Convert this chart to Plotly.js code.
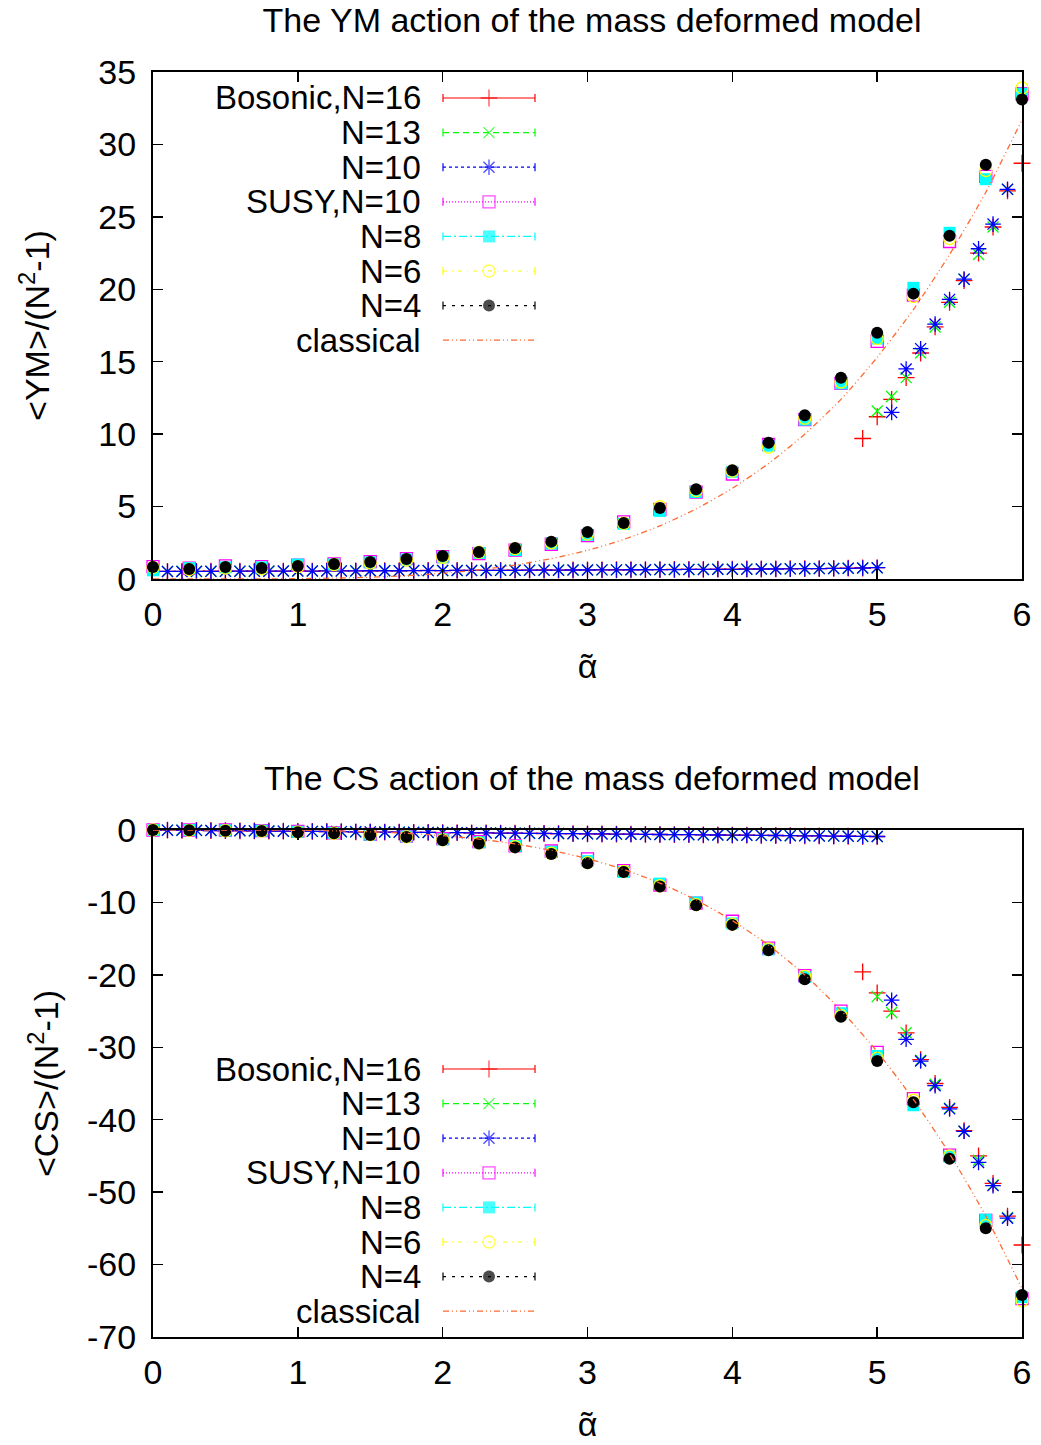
<!DOCTYPE html>
<html>
<head>
<meta charset="utf-8">
<script src="https://cdn.plot.ly/plotly-3.0.1.min.js"></script>
<style>html,body{margin:0;padding:0;background:#fff;}#chart{width:1041px;height:1445px;}</style>
</head>
<body>
<div id="chart"></div>
<script>
// ---------------- DATA ----------------
const seriesNames = ["Bosonic,N=16", "N=13", "N=10", "SUSY,N=10", "N=8", "N=6", "N=4", "classical"];
const xTickVals = [0, 1, 2, 3, 4, 5, 6];
const xTickText = ["0", "1", "2", "3", "4", "5", "6"];
const yTickValsTop = [0, 5, 10, 15, 20, 25, 30, 35];
const yTickTextTop = ["0", "5", "10", "15", "20", "25", "30", "35"];
const yTickValsBot = [-70, -60, -50, -40, -30, -20, -10, 0];
const yTickTextBot = ["-70", "-60", "-50", "-40", "-30", "-20", "-10", "0"];

// SUSY alpha grid
const alphaS = [0, 0.25, 0.5, 0.75, 1, 1.25, 1.5, 1.75, 2, 2.25, 2.5, 2.75, 3, 3.25, 3.5, 3.75, 4, 4.25, 4.5, 4.75, 5, 5.25, 5.5, 5.75, 6];

// bosonic lower-branch alpha grid
const alphaLow = [0.1,0.2,0.3,0.4,0.5,0.6,0.7,0.8,0.9,1.0,1.1,1.2,1.3,1.4,1.5,1.6,1.7,1.8,1.9,2.0,
  2.1,2.2,2.3,2.4,2.5,2.6,2.7,2.8,2.9,3.0,3.1,3.2,3.3,3.4,3.5,3.6,3.7,3.8,3.9,4.0,
  4.1,4.2,4.3,4.4,4.5,4.6,4.7,4.8,4.9,5.0];

// YM lower branch
const ymLowN16 = [0.53,0.52,0.53,0.54,0.53,0.54,0.55,0.54,0.55,0.56,0.55,0.56,0.57,0.56,0.57,0.58,0.57,0.58,0.59,0.58,
  0.59,0.60,0.59,0.60,0.61,0.61,0.62,0.61,0.62,0.63,0.63,0.64,0.64,0.65,0.65,0.66,0.66,0.67,0.68,0.68,
  0.69,0.69,0.70,0.71,0.72,0.72,0.73,0.75,0.76,0.78];
const ymLowN13 = [0.52,0.53,0.52,0.53,0.54,0.54,0.54,0.55,0.55,0.55,0.56,0.56,0.56,0.57,0.57,0.57,0.58,0.58,0.58,0.59,
  0.59,0.59,0.60,0.60,0.60,0.61,0.61,0.62,0.62,0.62,0.63,0.63,0.64,0.64,0.65,0.65,0.66,0.67,0.67,0.68,
  0.68,0.69,0.70,0.70,0.71,0.72,0.73,0.74,0.76,0.77];
const ymLowN10 = [0.52,0.52,0.53,0.53,0.53,0.54,0.54,0.54,0.55,0.55,0.55,0.56,0.56,0.56,0.57,0.57,0.57,0.58,0.58,0.58,
  0.59,0.59,0.59,0.60,0.60,0.61,0.61,0.61,0.62,0.62,0.63,0.63,0.64,0.64,0.65,0.65,0.66,0.66,0.67,0.67,
  0.68,0.69,0.69,0.70,0.71,0.72,0.73,0.74,0.76,0.78];

// YM upper branch
const alphaUpN16 = [4.9, 5.0, 5.1, 5.2, 5.3, 5.4, 5.5, 5.6, 5.7, 5.8, 5.9, 6.0];
const ymUpN16 = [9.7, 11.2, 12.4, 13.9, 15.6, 17.4, 19.1, 20.6, 22.5, 24.3, 26.8, 28.7];
const alphaUpN13 = [5.0, 5.1, 5.2, 5.3, 5.4, 5.5, 5.6, 5.7, 5.8, 5.9];
const ymUpN13 = [11.6, 12.6, 13.9, 15.6, 17.4, 19.1, 20.7, 22.4, 24.3, 26.9];
const alphaUpN10 = [5.1, 5.2, 5.3, 5.4, 5.5, 5.6, 5.7, 5.8, 5.9];
const ymUpN10 = [11.5, 14.5, 15.9, 17.6, 19.3, 20.7, 22.8, 24.5, 26.9];

// YM SUSY
const ymSusyN10 = [0.85,0.75,0.90,0.85,0.95,1.05,1.20,1.40,1.55,1.75,2.00,2.40,3.00,3.95,4.80,6.00,7.25,9.30,11.0,13.5,16.4,19.6,23.3,27.8,33.5];
const ymN8 = [0.60,0.75,0.80,0.80,1.00,1.00,1.15,1.35,1.50,1.80,2.00,2.45,3.05,3.80,4.70,6.00,7.40,9.20,11.0,13.5,16.6,20.1,23.9,27.6,33.5];
const ymN6 = [0.80,0.65,0.75,0.70,0.85,1.00,1.10,1.30,1.50,1.85,2.10,2.50,3.10,3.85,5.00,6.10,7.45,9.10,11.1,13.6,16.6,19.5,23.5,28.2,33.9];
const ymN4 = [0.83,0.69,0.83,0.76,0.90,1.03,1.17,1.38,1.59,1.86,2.14,2.58,3.24,3.87,4.90,6.20,7.50,9.40,11.3,13.9,17.0,19.7,23.7,28.6,33.1];
const ymClassical = [0,0.0001,0.0015,0.008,0.024,0.06,0.124,0.23,0.39,0.63,0.96,1.41,1.98,2.73,3.67,4.84,6.26,7.97,10.0,12.4,15.3,18.6,22.4,26.7,31.7];

// CS lower branch
const csLowN16 = [-0.02,-0.04,-0.05,-0.07,-0.09,-0.11,-0.12,-0.14,-0.16,-0.18,-0.20,-0.21,-0.23,-0.25,-0.27,-0.28,-0.30,-0.32,-0.34,-0.35,
  -0.37,-0.39,-0.41,-0.42,-0.44,-0.46,-0.48,-0.49,-0.51,-0.53,-0.55,-0.56,-0.58,-0.60,-0.62,-0.63,-0.65,-0.67,-0.69,-0.70,
  -0.72,-0.74,-0.76,-0.78,-0.80,-0.82,-0.84,-0.86,-0.88,-0.90];
const csLowN13 = [-0.02,-0.03,-0.05,-0.07,-0.08,-0.10,-0.12,-0.14,-0.15,-0.17,-0.19,-0.21,-0.22,-0.24,-0.26,-0.28,-0.29,-0.31,-0.33,-0.35,
  -0.36,-0.38,-0.40,-0.42,-0.43,-0.45,-0.47,-0.49,-0.50,-0.52,-0.54,-0.56,-0.57,-0.59,-0.61,-0.63,-0.64,-0.66,-0.68,-0.70,
  -0.71,-0.73,-0.75,-0.77,-0.79,-0.81,-0.83,-0.85,-0.87,-0.89];
const csLowN10 = [-0.02,-0.03,-0.05,-0.07,-0.09,-0.10,-0.12,-0.14,-0.16,-0.18,-0.19,-0.21,-0.23,-0.25,-0.26,-0.28,-0.30,-0.32,-0.33,-0.35,
  -0.37,-0.39,-0.40,-0.42,-0.44,-0.46,-0.47,-0.49,-0.51,-0.53,-0.54,-0.56,-0.58,-0.60,-0.62,-0.63,-0.65,-0.67,-0.69,-0.71,
  -0.72,-0.74,-0.76,-0.78,-0.80,-0.82,-0.84,-0.86,-0.88,-0.90];

// CS upper branch
const csUpN16 = [-19.6, -22.5, -25.0, -28.0, -31.7, -35.0, -38.3, -41.5, -45.0, -48.8, -53.3, -57.3];
const csUpN13 = [-23.0, -25.2, -28.0, -31.8, -35.1, -38.4, -41.6, -45.6, -49.0, -53.5];
const csUpN10 = [-23.5, -28.9, -31.9, -35.3, -38.5, -41.6, -45.9, -49.1, -53.6];

// CS SUSY
const csSusyN10 = [0,0,0,-0.10,-0.20,-0.40,-0.60,-0.85,-1.20,-1.60,-2.20,-2.90,-4.00,-5.60,-7.60,-10.1,-12.6,-16.3,-20.1,-25.0,-30.7,-37.1,-44.9,-53.9,-64.7];
const csN8 = [0,0,-0.05,-0.10,-0.25,-0.40,-0.65,-0.90,-1.30,-1.70,-2.20,-3.00,-4.30,-5.80,-7.40,-10.0,-12.9,-16.5,-20.3,-25.3,-31.2,-38.0,-45.1,-53.8,-64.5];
const csN6 = [0,-0.05,-0.10,-0.15,-0.30,-0.45,-0.65,-0.95,-1.35,-1.80,-2.30,-3.20,-4.50,-5.70,-7.70,-10.3,-13.0,-16.4,-20.2,-25.6,-31.5,-37.3,-45.0,-54.6,-65.0];
const csN4 = [0,-0.05,-0.10,-0.15,-0.30,-0.45,-0.70,-0.95,-1.40,-1.85,-2.40,-3.30,-4.60,-5.80,-7.80,-10.4,-13.1,-16.6,-20.6,-25.8,-31.9,-37.6,-45.4,-55.0,-64.2];
const csClassical = [0,0,-0.003,-0.016,-0.05,-0.12,-0.25,-0.46,-0.78,-1.25,-1.92,-2.81,-3.96,-5.45,-7.33,-9.67,-12.5,-15.9,-20.0,-24.9,-30.6,-37.2,-44.7,-53.3,-63.3];

// ---------------- STYLE ----------------
const FONT = "Liberation Sans, Arial, Helvetica, sans-serif";
const FS = 34;
const FS_KEY = 33;
const ALPHA_T = "\u1fb6"; // alpha with tilde-like accent above
const colors = ["#ff0000", "#00ff00", "#0000ff", "#ff00ff", "#00ffff", "#ffff00", "#000000", "#ff6a33"];
const symbols = ["cross-thin-open", "x-thin-open", "asterisk-open", "square-open", "square", "circle-open", "circle", null];
const msizes = [12, 11, 13, 12, 12, 12, 12, 0];
const dashes = ["solid", "6px,4px", "3px,3px", "1px,2px", "8px,3px,2px,3px", "4px,5px,1px,5px", "3px,6px", "6px,3px,1px,3px,1px,3px"];

function mk(i, x, y, xa, ya) {
  return {
    type: "scatter", mode: "markers", x: x, y: y, xaxis: xa, yaxis: ya,
    cliponaxis: false, showlegend: false, hoverinfo: "skip",
    marker: { symbol: symbols[i], size: msizes[i], color: colors[i],
      line: { color: colors[i], width: (i === 4 || i === 6) ? 0 : 1.3 } }
  };
}
function cl(x, y, xa, ya) {
  return { type: "scatter", mode: "lines", x: x, y: y, xaxis: xa, yaxis: ya,
    cliponaxis: false, showlegend: false, hoverinfo: "skip",
    line: { color: colors[7], width: 1.3, dash: dashes[7], shape: "spline", smoothing: 0.6 } };
}

const traces = [
  // top panel
  mk(0, alphaLow, ymLowN16, "x", "y"), mk(0, alphaUpN16, ymUpN16, "x", "y"),
  mk(1, alphaLow, ymLowN13, "x", "y"), mk(1, alphaUpN13, ymUpN13, "x", "y"),
  mk(2, alphaLow, ymLowN10, "x", "y"), mk(2, alphaUpN10, ymUpN10, "x", "y"),
  mk(3, alphaS, ymSusyN10, "x", "y"), mk(4, alphaS, ymN8, "x", "y"),
  mk(5, alphaS, ymN6, "x", "y"), mk(6, alphaS, ymN4, "x", "y"),
  cl(alphaS, ymClassical, "x", "y"),
  // bottom panel
  mk(0, alphaLow, csLowN16, "x2", "y2"), mk(0, alphaUpN16, csUpN16, "x2", "y2"),
  mk(1, alphaLow, csLowN13, "x2", "y2"), mk(1, alphaUpN13, csUpN13, "x2", "y2"),
  mk(2, alphaLow, csLowN10, "x2", "y2"), mk(2, alphaUpN10, csUpN10, "x2", "y2"),
  mk(3, alphaS, csSusyN10, "x2", "y2"), mk(4, alphaS, csN8, "x2", "y2"),
  mk(5, alphaS, csN6, "x2", "y2"), mk(6, alphaS, csN4, "x2", "y2"),
  cl(alphaS, csClassical, "x2", "y2")
];

// ---------------- LAYOUT GEOMETRY (pixels) ----------------
const W = 1041, H = 1445;
const PL = 153, PR = 1022, PT = 72, PB = 1337;
const pw = PR - PL, ph = PB - PT;
const px2x = p => (p - PL) / pw;
const py2y = p => (PB - p) / ph;
const topDom = [py2y(579), 1];
const botDom = [0, py2y(830)];
const topRange = [0, 35], botRange = [-70, 0];

// manual gnuplot-style key (positions in pixels, mapped to the panel's axes)
const annotations = [];
const shapes = [];
const keyPanels = [
  { row0: 98, xa: "x", ya: "y", pTop: 72, pBot: 579, r: topRange },
  { row0: 1069, xa: "x2", ya: "y2", pTop: 830, pBot: 1337, r: botRange }
];
keyPanels.forEach(function (kp) {
  const kx = [], ky = [], kc = [], ks = [], kz = [], kw = [];
  seriesNames.forEach(function (name, i) {
    const py = kp.row0 + i * 34.6;
    annotations.push({ xref: "paper", yref: "paper", x: px2x(422), y: py2y(py), xanchor: "right", yanchor: "middle",
      text: name, showarrow: false, borderpad: 0, font: { family: FONT, size: FS_KEY, color: "#000" } });
    shapes.push({ type: "line", xref: "paper", yref: "paper", x0: px2x(443), x1: px2x(535), y0: py2y(py), y1: py2y(py),
      line: { color: colors[i], width: 1.2, dash: dashes[i] } });
    if (i < 7) {
      [443, 535].forEach(function (cx) {
        shapes.push({ type: "line", xref: "paper", yref: "paper", x0: px2x(cx), x1: px2x(cx), y0: py2y(py - 4), y1: py2y(py + 4),
          line: { color: colors[i], width: 1.2 } });
      });
      kx.push(6 * (489 - PL) / pw);
      ky.push(kp.r[1] - (py - kp.pTop) / (kp.pBot - kp.pTop) * (kp.r[1] - kp.r[0]));
      kc.push(colors[i]); ks.push(symbols[i]); kz.push(msizes[i]); kw.push((i === 4 || i === 6) ? 0 : 1.3);
    }
  });
  traces.push({ type: "scatter", mode: "markers", x: kx, y: ky, xaxis: kp.xa, yaxis: kp.ya,
    cliponaxis: false, showlegend: false, hoverinfo: "skip",
    marker: { symbol: ks, size: kz, color: kc, line: { color: kc, width: kw } } });
});

// second panel title
annotations.push({ xref: "paper", yref: "paper", x: px2x(592), y: py2y(778), xanchor: "center", yanchor: "middle",
  text: "The CS action of the mass deformed model", showarrow: false, font: { family: FONT, size: FS, color: "#000" } });

const axBase = {
  showline: true, linecolor: "#000", linewidth: 2, mirror: "ticks",
  ticks: "inside", ticklen: 10, tickwidth: 1.5, tickcolor: "#000",
  showgrid: false, zeroline: false, tickfont: { family: FONT, size: FS, color: "#000" }
};
const xAxis = (anchor) => Object.assign({}, axBase, {
  anchor: anchor, domain: [0, 1], range: [0, 6], tickmode: "array", tickvals: xTickVals, ticktext: xTickText, ticklabelstandoff: 4,
  title: { text: ALPHA_T, font: { family: FONT, size: FS, color: "#000" }, standoff: 22 }
});

const layout = {
  width: W, height: H,
  margin: { l: PL, r: W - PR, t: PT, b: H - PB },
  paper_bgcolor: "#fff", plot_bgcolor: "#fff",
  showlegend: false,
  title: { text: "The YM action of the mass deformed model", font: { family: FONT, size: FS, color: "#000" },
    x: 592 / W, xanchor: "center", xref: "container", y: 1 - 20 / H, yanchor: "middle", yref: "container" },
  xaxis: xAxis("y"),
  yaxis: Object.assign({}, axBase, { anchor: "x", domain: topDom, range: topRange, tickmode: "array",
    tickvals: yTickValsTop, ticktext: yTickTextTop, ticklabelstandoff: 8,
    title: { text: "&lt;YM&gt;/(N<sup>2</sup>-1)", font: { family: FONT, size: FS, color: "#000" }, standoff: 38 } }),
  xaxis2: xAxis("y2"),
  yaxis2: Object.assign({}, axBase, { anchor: "x2", domain: botDom, range: botRange, tickmode: "array",
    tickvals: yTickValsBot, ticktext: yTickTextBot, ticklabelstandoff: 8,
    title: { text: "&lt;CS&gt;/(N<sup>2</sup>-1)", font: { family: FONT, size: FS, color: "#000" }, standoff: 18 } }),
  annotations: annotations,
  shapes: shapes
};

Plotly.newPlot("chart", traces, layout, { displayModeBar: false, staticPlot: true });
</script>
</body>
</html>
